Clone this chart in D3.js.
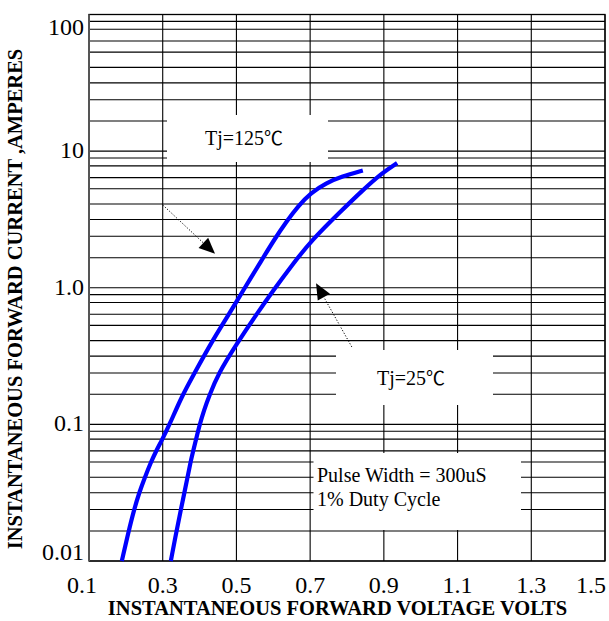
<!DOCTYPE html>
<html>
<head>
<meta charset="utf-8">
<script src="https://cdn.jsdelivr.net/npm/d3@7"></script>
<style>
  body { margin: 0; background: #fff; }
  svg { display: block; }
  text { font-family: "Liberation Serif", "Times New Roman", serif; fill: #000; }
  .deg { font-family: "Noto Sans CJK SC", "DejaVu Serif", serif; }
</style>
</head>
<body>
<div id="chart"></div>
<script>
// axis ticks
const xTicks = [0.1, 0.3, 0.5, 0.7, 0.9, 1.1, 1.3, 1.5];
const xTickLabels = ["0.1", "0.3", "0.5", "0.7", "0.9", "1.1", "1.3", "1.5"];
const yDecades = [0.01, 0.1, 1, 10, 100];
const yTickLabels = ["0.01", "0.1", "1.0", "10", "100"];
// minor grid lines inside each decade, as drawn on the sheet
const minorSteps = [1.66, 2.38, 3.16, 4.1, 5.3, 6.4, 7.8, 8.9];

// Tj = 125 C
const vf125 = [0.189, 0.207, 0.222, 0.236, 0.251, 0.267, 0.282, 0.298, 0.318, 0.352, 0.385,
               0.431, 0.480, 0.519, 0.564, 0.602, 0.635, 0.668, 0.702, 0.743, 0.786, 0.843];
const if125 = [0.01, 0.0163, 0.0236, 0.0315, 0.0405, 0.0522, 0.0638, 0.0768, 0.0989, 0.161, 0.234,
               0.394, 0.642, 0.963, 1.52, 2.24, 3.03, 3.97, 4.94, 5.84, 6.52, 7.21];
// Tj = 25 C
const vf25 = [0.322, 0.337, 0.349, 0.358, 0.367, 0.375, 0.382, 0.390, 0.400, 0.412, 0.426,
              0.450, 0.502, 0.555, 0.601, 0.651, 0.705, 0.781, 0.843, 0.895, 0.936];
const if25 = [0.01, 0.0163, 0.0236, 0.0309, 0.0405, 0.0522, 0.0628, 0.0768, 0.0989, 0.127, 0.161,
              0.234, 0.394, 0.642, 0.963, 1.47, 2.24, 3.58, 5.19, 6.92, 8.19];

const width = 609, height = 621;
const plot = { left: 89, right: 605, top: 14.5, bottom: 561 };

const svg = d3.select("#chart")
  .append("svg")
  .attr("width", width)
  .attr("height", height);

const x = d3.scaleLinear().domain([0.1, 1.5]).range([plot.left, plot.right]);
const y = d3.scaleLog().domain([0.01, 100]).range([plot.bottom, plot.top]);

// horizontal grid
let hLines = [];
yDecades.forEach((d, i) => {
  hLines.push(d);
  if (i < yDecades.length - 1) minorSteps.forEach(m => hLines.push(d * m));
});
svg.append("g")
  .selectAll("line")
  .data(hLines)
  .enter()
  .append("line")
    .attr("x1", plot.left)
    .attr("x2", plot.right)
    .attr("y1", d => y(d))
    .attr("y2", d => y(d))
    .attr("stroke", "#000")
    .attr("stroke-width", 1.1);

// vertical grid
svg.append("g")
  .selectAll("line")
  .data(xTicks)
  .enter()
  .append("line")
    .attr("x1", d => x(d))
    .attr("x2", d => x(d))
    .attr("y1", plot.top)
    .attr("y2", plot.bottom)
    .attr("stroke", "#000")
    .attr("stroke-width", 1.1);

// white label boxes that cut the grid
const boxes = [
  { x0: 167, x1: 328, y0: 115, y1: 162 },
  { x0: 336, x1: 493, y0: 350, y1: 405 },
  { x0: 313.5, x1: 521, y0: 453, y1: 530 }
];
svg.append("g")
  .selectAll("rect")
  .data(boxes)
  .enter()
  .append("rect")
    .attr("x", d => d.x0)
    .attr("y", d => d.y0)
    .attr("width", d => d.x1 - d.x0)
    .attr("height", d => d.y1 - d.y0)
    .attr("fill", "#fff");

// frame
svg.append("rect")
  .attr("x", plot.left)
  .attr("y", plot.top)
  .attr("width", plot.right - plot.left)
  .attr("height", plot.bottom - plot.top)
  .attr("fill", "none")
  .attr("stroke", "#000")
  .attr("stroke-width", 1.3);
svg.append("line")
  .attr("x1", plot.left).attr("x2", plot.left)
  .attr("y1", plot.top).attr("y2", plot.bottom)
  .attr("stroke", "#555")
  .attr("stroke-width", 2);

// curves
const line = d3.line()
  .x(d => x(d[0]))
  .y(d => y(d[1]))
  .curve(d3.curveBasis);
const curves = [d3.zip(vf125, if125), d3.zip(vf25, if25)];
svg.append("g")
  .selectAll("path")
  .data(curves)
  .enter()
  .append("path")
    .attr("d", d => line(d))
    .attr("fill", "none")
    .attr("stroke", "#0000ff")
    .attr("stroke-width", 4.2);

// dotted pointer arrows (volts, amps)
const arrows = [
  { from: [0.3, 4.04], to: [0.442, 1.77] },
  { from: [0.813, 0.369], to: [0.716, 1.08] }
];
arrows.forEach(a => {
  const x0 = x(a.from[0]), y0 = y(a.from[1]);
  const x1 = x(a.to[0]), y1 = y(a.to[1]);
  const ang = Math.atan2(y1 - y0, x1 - x0);
  const len = 16, half = 7;
  const bx = x1 - len * Math.cos(ang), by = y1 - len * Math.sin(ang);
  svg.append("line")
    .attr("x1", x0).attr("y1", y0)
    .attr("x2", bx).attr("y2", by)
    .attr("stroke", "#000")
    .attr("stroke-width", 1)
    .attr("stroke-dasharray", "1.2,1.8");
  const pts = [
    [x1, y1],
    [bx + half * Math.sin(ang), by - half * Math.cos(ang)],
    [bx - half * Math.sin(ang), by + half * Math.cos(ang)]
  ];
  svg.append("path")
    .attr("d", "M" + pts.map(p => p.join(",")).join("L") + "Z")
    .attr("fill", "#000");
});

// annotations
function tempLabel(px, py, txt) {
  const t = svg.append("text").attr("x", px).attr("y", py).style("font-size", "20px");
  t.append("tspan").style("font-family", "'Liberation Serif', serif").text(txt);
  t.append("tspan").attr("class", "deg").style("font-size", "19px").text("℃");
}
tempLabel(205, 145, "Tj=125");
tempLabel(377, 385, "Tj=25");
svg.append("text").attr("x", 317).attr("y", 482).style("font-size", "20px").text("Pulse Width = 300uS");
svg.append("text").attr("x", 317).attr("y", 506).style("font-size", "20px").text("1% Duty Cycle");

// y tick labels
svg.append("g")
  .selectAll("text")
  .data(yDecades)
  .enter()
  .append("text")
    .attr("x", 84)
    .attr("y", d => Math.max(35, Math.min(560, y(d) + 7)))
    .attr("text-anchor", "end")
    .style("font-size", "24px")
    .text((d, i) => yTickLabels[i]);

// x tick labels
svg.append("g")
  .selectAll("text")
  .data(xTicks)
  .enter()
  .append("text")
    .attr("x", (d, i) => i === 0 ? x(d) - 7 : (i === xTicks.length - 1 ? x(d) - 14 : x(d)))
    .attr("y", 593)
    .attr("text-anchor", "middle")
    .style("font-size", "24px")
    .text((d, i) => xTickLabels[i]);

// axis titles
svg.append("text")
  .attr("x", 337.5)
  .attr("y", 615)
  .attr("text-anchor", "middle")
  .style("font-size", "20.5px")
  .style("font-weight", "bold")
  .text("INSTANTANEOUS FORWARD VOLTAGE VOLTS");

svg.append("text")
  .attr("transform", "translate(22,299) rotate(-90)")
  .attr("text-anchor", "middle")
  .style("font-size", "20.5px")
  .style("font-weight", "bold")
  .text("INSTANTANEOUS FORWARD CURRENT ,AMPERES");
</script>
</body>
</html>
